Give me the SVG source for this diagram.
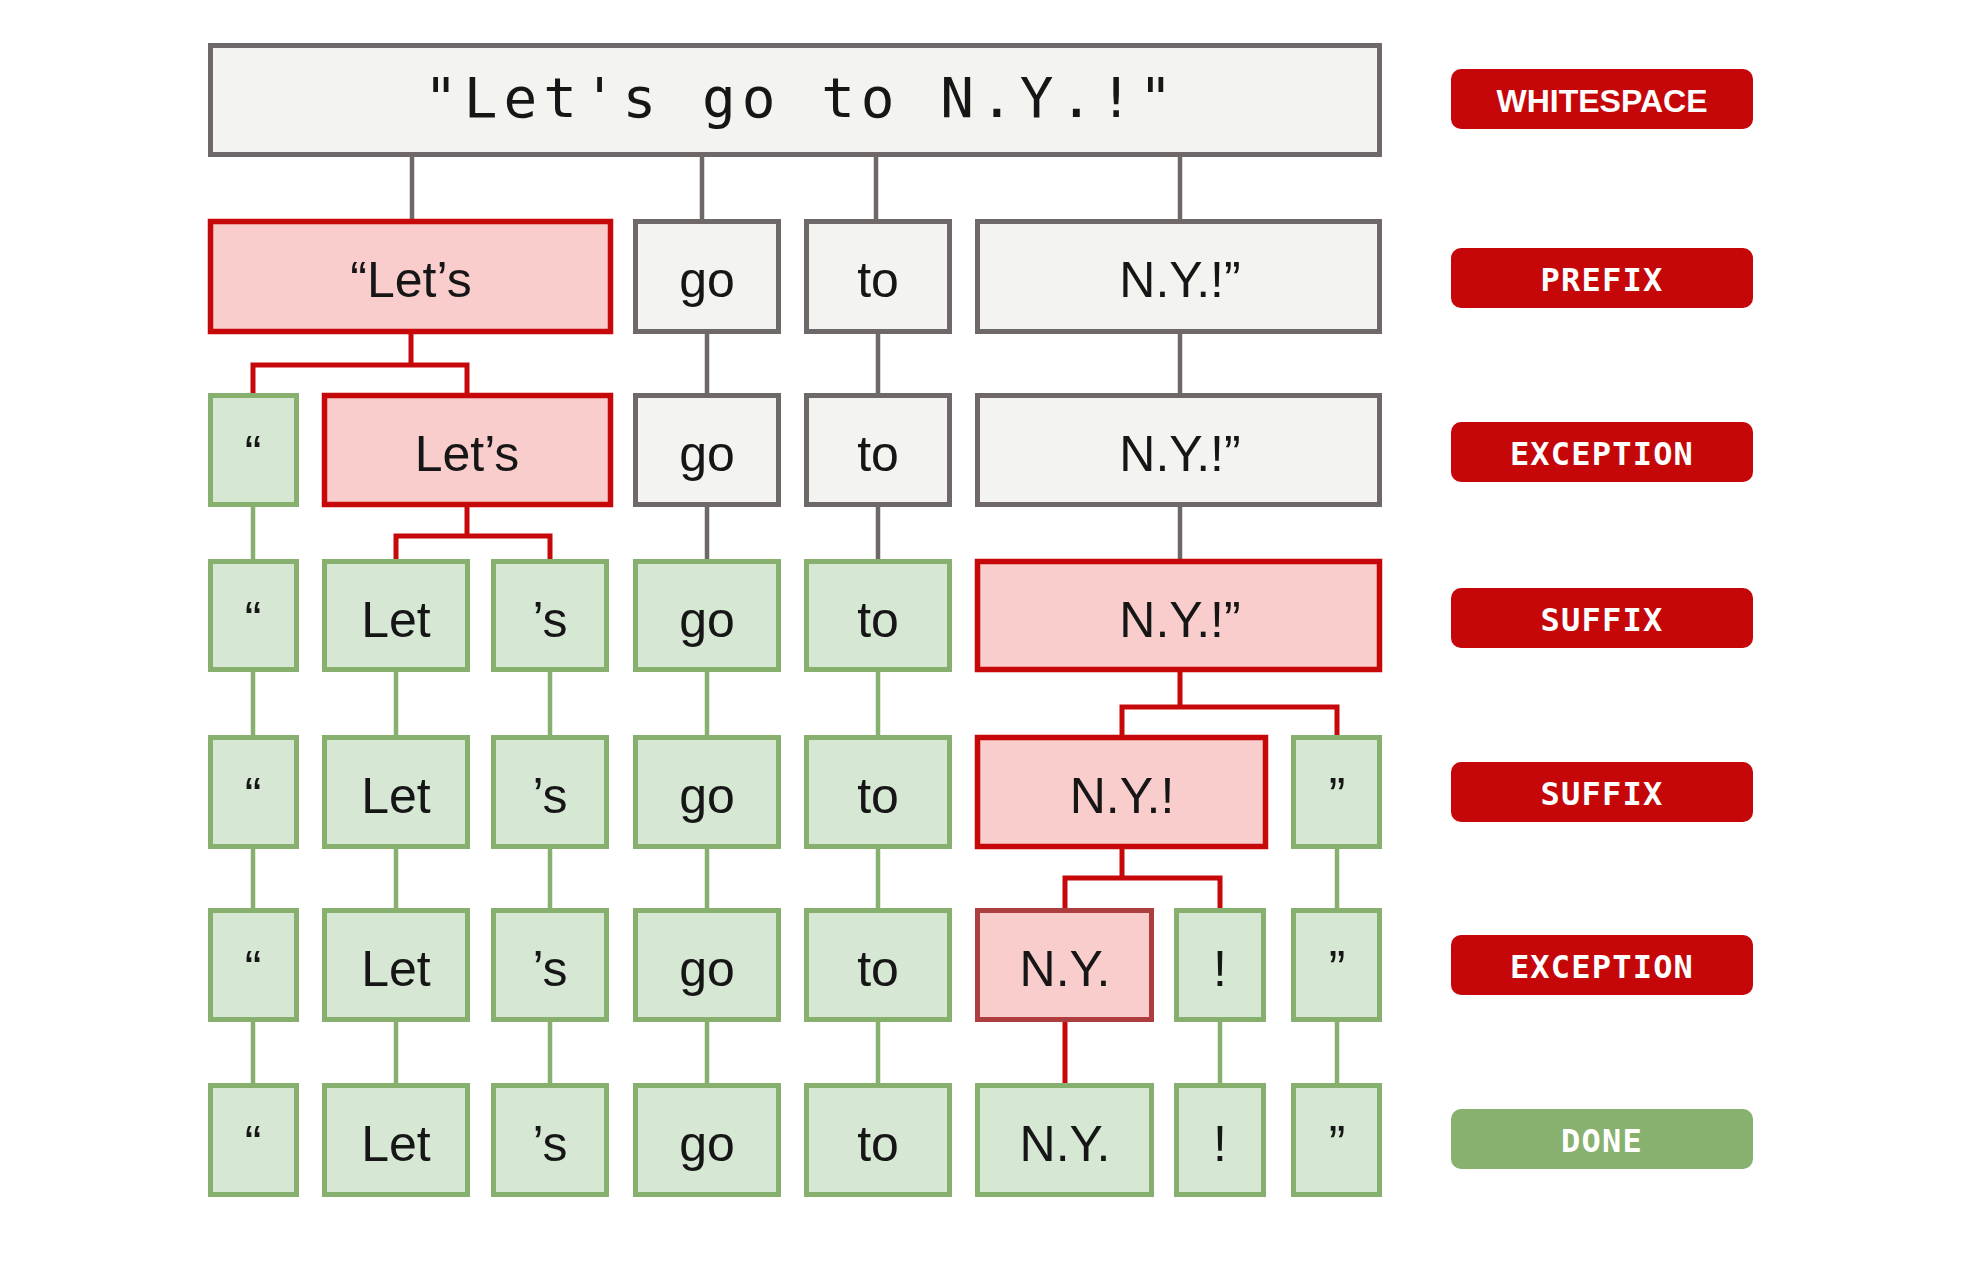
<svg xmlns="http://www.w3.org/2000/svg" width="1966" height="1262" viewBox="0 0 1966 1262">
<style>
.g{fill:#f3f4f0;stroke:#6e6968;stroke-width:5}
.r{fill:#f9cdcc;stroke:#c6080a;stroke-width:5.5}
.rm{fill:#f9cdcc;stroke:#ad3d3f;stroke-width:5}
.n{fill:#d6e8d4;stroke:#87b06e;stroke-width:5}
.t{font-family:"Liberation Sans",Arial,sans-serif;font-size:50px;fill:#161616;text-anchor:middle}
.mono{font-family:"DejaVu Sans Mono","Liberation Mono",monospace;font-size:56px;fill:#161616;letter-spacing:6px}
.lr{fill:#c50709}
.lg{fill:#88b16f}
.lt{font-family:"DejaVu Sans Mono","Liberation Mono",monospace;font-weight:bold;font-size:32px;fill:#ffffff;text-anchor:middle;letter-spacing:1.2px}
.lt2{font-family:"Liberation Sans",Arial,sans-serif;font-weight:bold;font-size:32px;fill:#ffffff;text-anchor:middle}
.cg{fill:none;stroke:#6e6968;stroke-width:4.5}
.cr{fill:none;stroke:#c6080a;stroke-width:5}
.cn{fill:none;stroke:#87b06e;stroke-width:4.5}
</style>
<rect width="1966" height="1262" fill="#ffffff"/>
<g id="connectors">
<path class="cg" d="M412 157V219M702 157V219M876 157V219M1180 157V219"/>
<path class="cg" d="M707 334V393M878 334V393M1180 334V393"/>
<path class="cg" d="M707 507V559M878 507V559M1180 507V559"/>
<path class="cr" d="M411 334V365M253 393V365H467V393"/>
<path class="cr" d="M467 507V536M396 559V536H550V559"/>
<path class="cr" d="M1180 672V707M1122 735V707H1337V735"/>
<path class="cr" d="M1122 849V878M1065 908V878H1220V908"/>
<path class="cr" d="M1065 1022V1083"/>
<path class="cn" d="M253 507V559"/>
<path class="cn" d="M253 672V735M396 672V735M550 672V735M707 672V735M878 672V735"/>
<path class="cn" d="M253 849V908M396 849V908M550 849V908M707 849V908M878 849V908M1337 849V908"/>
<path class="cn" d="M253 1022V1083M396 1022V1083M550 1022V1083M707 1022V1083M878 1022V1083M1220 1022V1083M1337 1022V1083"/>
</g>
<g id="top"><rect class="g" x="210.5" y="45.5" width="1169" height="109"/><text class="mono" x="424" y="117">"Let's go to N.Y.!"</text></g>
<g id="r1-lets"><rect class="r" x="210.5" y="221.5" width="400" height="110"/><text class="t" x="411" y="297">“Let’s</text></g>
<g id="r1-go"><rect class="g" x="635.5" y="221.5" width="143" height="110"/><text class="t" x="707" y="297">go</text></g>
<g id="r1-to"><rect class="g" x="806.5" y="221.5" width="143" height="110"/><text class="t" x="878" y="297">to</text></g>
<g id="r1-ny"><rect class="g" x="977.5" y="221.5" width="402" height="110"/><text class="t" x="1180" y="297">N.Y.!”</text></g>

<g id="r2-q"><rect class="n" x="210.5" y="395.5" width="86" height="109"/><text class="t" x="253" y="471">“</text></g>
<g id="r2-lets"><rect class="r" x="324.5" y="395.5" width="286" height="109"/><text class="t" x="467" y="471">Let’s</text></g>
<g id="r2-go"><rect class="g" x="635.5" y="395.5" width="143" height="109"/><text class="t" x="707" y="471">go</text></g>
<g id="r2-to"><rect class="g" x="806.5" y="395.5" width="143" height="109"/><text class="t" x="878" y="471">to</text></g>
<g id="r2-ny"><rect class="g" x="977.5" y="395.5" width="402" height="109"/><text class="t" x="1180" y="471">N.Y.!”</text></g>

<g id="r3-q"><rect class="n" x="210.5" y="561.5" width="86" height="108"/><text class="t" x="253" y="637">“</text></g>
<g id="r3-let"><rect class="n" x="324.5" y="561.5" width="143" height="108"/><text class="t" x="396" y="637">Let</text></g>
<g id="r3-s"><rect class="n" x="493.5" y="561.5" width="113" height="108"/><text class="t" x="550" y="637">’s</text></g>
<g id="r3-go"><rect class="n" x="635.5" y="561.5" width="143" height="108"/><text class="t" x="707" y="637">go</text></g>
<g id="r3-to"><rect class="n" x="806.5" y="561.5" width="143" height="108"/><text class="t" x="878" y="637">to</text></g>
<g id="r3-ny"><rect class="r" x="977.5" y="561.5" width="402" height="108"/><text class="t" x="1180" y="637">N.Y.!”</text></g>

<g id="r4-q"><rect class="n" x="210.5" y="737.5" width="86" height="109"/><text class="t" x="253" y="813">“</text></g>
<g id="r4-let"><rect class="n" x="324.5" y="737.5" width="143" height="109"/><text class="t" x="396" y="813">Let</text></g>
<g id="r4-s"><rect class="n" x="493.5" y="737.5" width="113" height="109"/><text class="t" x="550" y="813">’s</text></g>
<g id="r4-go"><rect class="n" x="635.5" y="737.5" width="143" height="109"/><text class="t" x="707" y="813">go</text></g>
<g id="r4-to"><rect class="n" x="806.5" y="737.5" width="143" height="109"/><text class="t" x="878" y="813">to</text></g>
<g id="r4-ny"><rect class="r" x="977.5" y="737.5" width="288" height="109"/><text class="t" x="1122" y="813">N.Y.!</text></g>
<g id="r4-rq"><rect class="n" x="1293.5" y="737.5" width="86" height="109"/><text class="t" x="1337" y="813">”</text></g>

<g id="r5-q"><rect class="n" x="210.5" y="910.5" width="86" height="109"/><text class="t" x="253" y="986">“</text></g>
<g id="r5-let"><rect class="n" x="324.5" y="910.5" width="143" height="109"/><text class="t" x="396" y="986">Let</text></g>
<g id="r5-s"><rect class="n" x="493.5" y="910.5" width="113" height="109"/><text class="t" x="550" y="986">’s</text></g>
<g id="r5-go"><rect class="n" x="635.5" y="910.5" width="143" height="109"/><text class="t" x="707" y="986">go</text></g>
<g id="r5-to"><rect class="n" x="806.5" y="910.5" width="143" height="109"/><text class="t" x="878" y="986">to</text></g>
<g id="r5-ny"><rect class="rm" x="977.5" y="910.5" width="174" height="109"/><text class="t" x="1065" y="986">N.Y.</text></g>
<g id="r5-ex"><rect class="n" x="1176.5" y="910.5" width="87" height="109"/><text class="t" x="1220" y="986">!</text></g>
<g id="r5-rq"><rect class="n" x="1293.5" y="910.5" width="86" height="109"/><text class="t" x="1337" y="986">”</text></g>

<g id="r6-q"><rect class="n" x="210.5" y="1085.5" width="86" height="109"/><text class="t" x="253" y="1161">“</text></g>
<g id="r6-let"><rect class="n" x="324.5" y="1085.5" width="143" height="109"/><text class="t" x="396" y="1161">Let</text></g>
<g id="r6-s"><rect class="n" x="493.5" y="1085.5" width="113" height="109"/><text class="t" x="550" y="1161">’s</text></g>
<g id="r6-go"><rect class="n" x="635.5" y="1085.5" width="143" height="109"/><text class="t" x="707" y="1161">go</text></g>
<g id="r6-to"><rect class="n" x="806.5" y="1085.5" width="143" height="109"/><text class="t" x="878" y="1161">to</text></g>
<g id="r6-ny"><rect class="n" x="977.5" y="1085.5" width="174" height="109"/><text class="t" x="1065" y="1161">N.Y.</text></g>
<g id="r6-ex"><rect class="n" x="1176.5" y="1085.5" width="87" height="109"/><text class="t" x="1220" y="1161">!</text></g>
<g id="r6-rq"><rect class="n" x="1293.5" y="1085.5" width="86" height="109"/><text class="t" x="1337" y="1161">”</text></g>

<g id="label-whitespace"><rect class="lr" x="1451" y="69" width="302" height="60" rx="10"/><text class="lt2" x="1602" y="111.5">WHITESPACE</text></g>
<g id="label-prefix"><rect class="lr" x="1451" y="248" width="302" height="60" rx="10"/><text class="lt" x="1602" y="290.5">PREFIX</text></g>
<g id="label-exception1"><rect class="lr" x="1451" y="422" width="302" height="60" rx="10"/><text class="lt" x="1602" y="464.5">EXCEPTION</text></g>
<g id="label-suffix1"><rect class="lr" x="1451" y="588" width="302" height="60" rx="10"/><text class="lt" x="1602" y="630.5">SUFFIX</text></g>
<g id="label-suffix2"><rect class="lr" x="1451" y="762" width="302" height="60" rx="10"/><text class="lt" x="1602" y="804.5">SUFFIX</text></g>
<g id="label-exception2"><rect class="lr" x="1451" y="935" width="302" height="60" rx="10"/><text class="lt" x="1602" y="977.5">EXCEPTION</text></g>
<g id="label-done"><rect class="lg" x="1451" y="1109" width="302" height="60" rx="10"/><text class="lt" x="1602" y="1151.5">DONE</text></g>
</svg>
